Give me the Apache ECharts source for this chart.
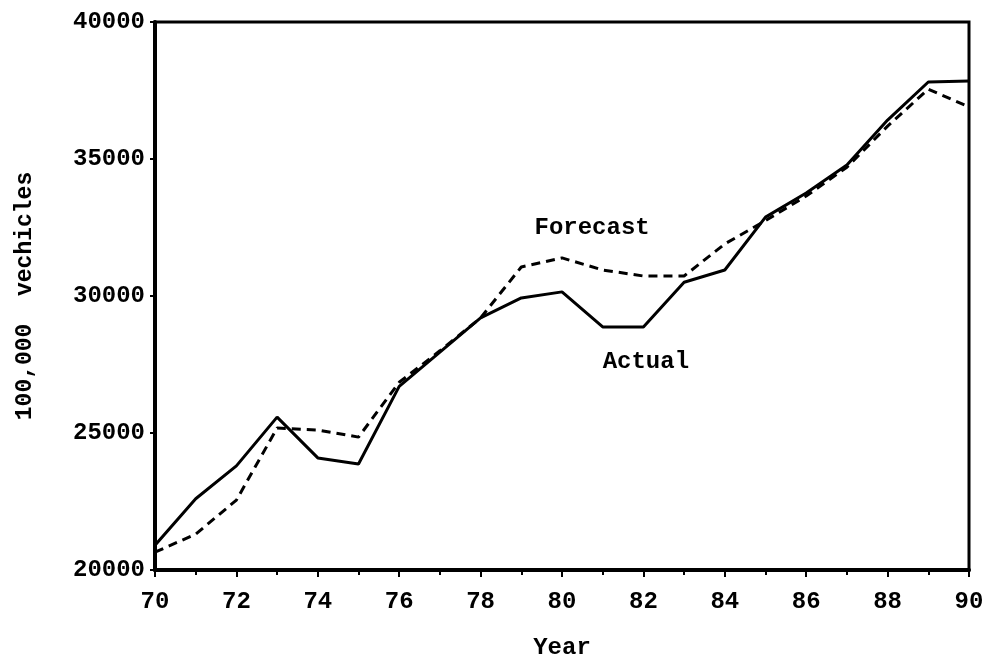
<!DOCTYPE html>
<html>
<head>
<meta charset="utf-8">
<script src="https://cdn.jsdelivr.net/npm/echarts@6/dist/echarts.min.js"></script>
<style>
  html, body { margin: 0; padding: 0; background: #fff; }
  #main { width: 988px; height: 665px; }
</style>
</head>
<body>
<div id="main"></div>
<script>
// years 1970..1990
var years = [70, 71, 72, 73, 74, 75, 76, 77, 78, 79, 80, 81, 82, 83, 84, 85, 86, 87, 88, 89, 90];
var actual = [20900, 22600, 23800, 25580, 24090, 23870, 26700, 27950, 29200, 29930, 30150, 28870, 28870, 30500, 30950, 32880, 33760, 34780, 36420, 37810, 37850];
var forecast = [20650, 21310, 22550, 25180, 25110, 24850, 26850, 28000, 29200, 31060, 31390, 30950, 30730, 30730, 31900, 32750, 33650, 34700, 36200, 37550, 36900];

var font = 'Liberation Mono';

function pairs(vals) {
    return years.map(function (y, i) { return [y, vals[i]]; });
}

var txt = { color: '#000', fontFamily: font, fontWeight: 'bold', fontSize: 24 };

var myChart = echarts.init(document.getElementById('main'));

myChart.setOption({
    backgroundColor: '#fff',
    animation: false,
    grid: {
        left: 155,
        right: 19,
        top: 22,
        bottom: 95,
        show: true,
        borderColor: '#000',
        borderWidth: 3
    },
    xAxis: {
        type: 'value',
        min: 70,
        max: 90,
        interval: 2,
        name: 'Year',
        nameLocation: 'middle',
        nameGap: 66,
        nameTextStyle: txt,
        axisLine: { lineStyle: { color: '#000', width: 4 } },
        axisTick: { length: 7, lineStyle: { color: '#000', width: 2 } },
        minorTick: { show: true, splitNumber: 2, length: 5, lineStyle: { color: '#000', width: 2 } },
        axisLabel: Object.assign({ margin: 20 }, txt),
        splitLine: { show: false }
    },
    yAxis: {
        type: 'value',
        min: 20000,
        max: 40000,
        interval: 5000,
        name: '100,000  vechicles',
        nameLocation: 'middle',
        nameGap: 118,
        nameTextStyle: Object.assign({}, txt, { fontSize: 23 }),
        axisLine: { lineStyle: { color: '#000', width: 4 } },
        axisTick: { length: 5, lineStyle: { color: '#000', width: 2 } },
        axisLabel: Object.assign({ margin: 10, formatter: function (v) { return String(v); } }, txt),
        splitLine: { show: false }
    },
    series: [
        {
            name: 'Actual',
            type: 'line',
            data: pairs(actual),
            symbol: 'none',
            lineStyle: { color: '#000', width: 3 },
            markPoint: {
                symbol: 'circle',
                symbolSize: 0,
                label: Object.assign({ show: true, formatter: 'Actual' }, txt),
                data: [{ coord: [82.06, 27590] }]
            }
        },
        {
            name: 'Forecast',
            type: 'line',
            data: pairs(forecast),
            symbol: 'none',
            lineStyle: { color: '#000', width: 3, type: [9, 6] },
            markPoint: {
                symbol: 'circle',
                symbolSize: 0,
                label: Object.assign({ show: true, formatter: 'Forecast' }, txt),
                data: [{ coord: [80.74, 32480] }]
            }
        }
    ]
});

window.addEventListener('resize', function () {
    myChart.resize();
});
</script>
</body>
</html>
